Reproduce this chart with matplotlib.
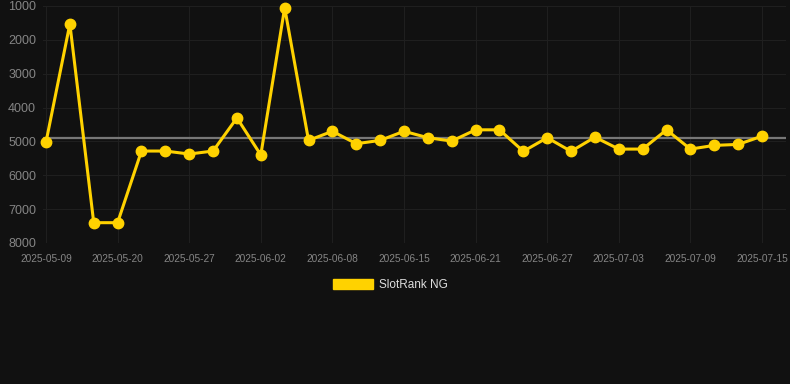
import matplotlib
matplotlib.use("Agg")
import matplotlib.pyplot as plt
from matplotlib.patches import Patch

plt.rcParams['font.family'] = ['Liberation Sans', 'DejaVu Sans']

dates = ["2025-05-09", "2025-05-13", "2025-05-16", "2025-05-20", "2025-05-22", "2025-05-25",
         "2025-05-27", "2025-05-29", "2025-05-31", "2025-06-02", "2025-06-04", "2025-06-06",
         "2025-06-08", "2025-06-10", "2025-06-12", "2025-06-15", "2025-06-17", "2025-06-19",
         "2025-06-21", "2025-06-23", "2025-06-25", "2025-06-27", "2025-06-29", "2025-07-01",
         "2025-07-03", "2025-07-05", "2025-07-07", "2025-07-09", "2025-07-11", "2025-07-13",
         "2025-07-15"]
ranks = [5020, 1530, 7400, 7400, 5284, 5284, 5372, 5284, 4305, 5400, 1050, 4970,
         4700, 5067, 4970, 4700, 4890, 4990, 4657, 4657, 5293, 4890, 5293, 4874,
         5226, 5226, 4657, 5226, 5117, 5088, 4845]
average = 4900
yticks = [1000, 2000, 3000, 4000, 5000, 6000, 7000, 8000]
series_name = "SlotRank NG"

bg = "#111111"
gold = "#FFD200"
fig = plt.figure(figsize=(7.9, 3.84), dpi=100, facecolor=bg)
ax = fig.add_axes([43/790, 1-243/384, (786-43)/790, (243-6)/384])
ax.set_facecolor(bg)

x = list(range(len(dates)))
ax.axhline(average, color="#777777", lw=1.6, zorder=2)
ax.plot(x, ranks, color=gold, lw=2.2, marker='o', markersize=7.5, zorder=3, clip_on=False)

ax.set_ylim(8000, 1000)
ax.set_yticks(yticks)
ax.set_yticklabels([str(v) for v in yticks])
span = 762 - 46
step = span / 30
ax.set_xlim(-3/step, 30 + 24/step)
ticks = x[::3]
ax.set_xticks(ticks)
ax.set_xticklabels([dates[i] for i in ticks])

ax.grid(True, color="#1f1f1f", lw=0.8)
ax.set_axisbelow(True)
for s in ax.spines.values():
    s.set_visible(False)
ax.tick_params(axis='y', length=0, pad=5, labelsize=9, labelcolor="#858585")
ax.tick_params(axis='x', length=0, pad=8, labelsize=7.3, labelcolor="#858585")

fig.legend(handles=[Patch(facecolor=gold, edgecolor=gold, label=series_name)],
           loc='center', bbox_to_anchor=(390/790, 1-285/384), frameon=False,
           handlelength=3.4, handleheight=1.0, handletextpad=0.5,
           fontsize=8.5, labelcolor="#dddddd")

fig.savefig("out.png", dpi=100, facecolor=bg)
